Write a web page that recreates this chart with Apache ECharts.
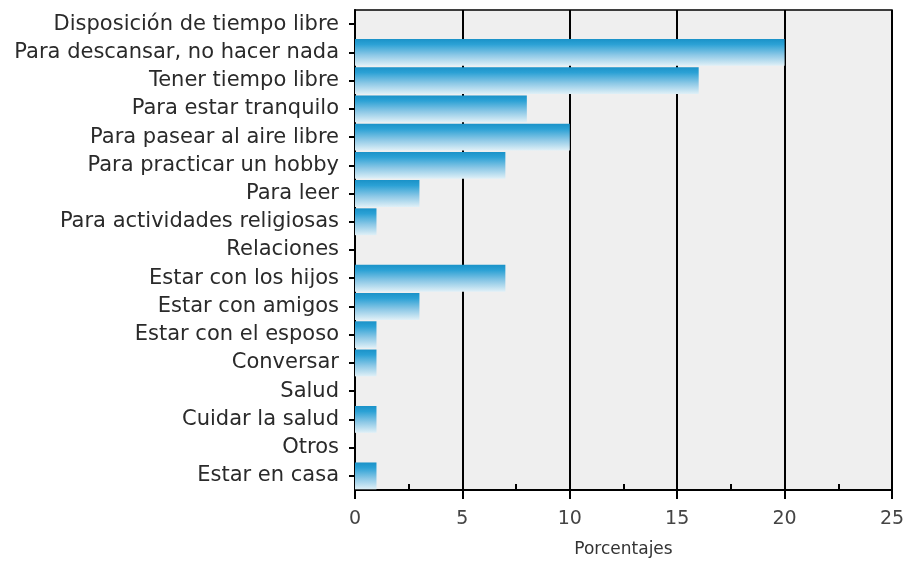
<!DOCTYPE html>
<html>
<head>
<meta charset="utf-8">
<script src="https://cdn.jsdelivr.net/npm/echarts@6/dist/echarts.min.js"></script>
<style>
html,body{margin:0;padding:0;background:#fff;}
#c{width:912px;height:563px;}
</style>
</head>
<body>
<div id="c"></div>
<script>
const categories = [
  'Disposición de tiempo libre',
  'Para descansar, no hacer nada',
  'Tener tiempo libre',
  'Para estar tranquilo',
  'Para pasear al aire libre',
  'Para practicar un hobby',
  'Para leer',
  'Para actividades religiosas',
  'Relaciones',
  'Estar con los hijos',
  'Estar con amigos',
  'Estar con el esposo',
  'Conversar',
  'Salud',
  'Cuidar la salud',
  'Otros',
  'Estar en casa'
];
const values = [null, 20, 16, 8, 10, 7, 3, 1, null, 7, 3, 1, 1, null, 1, null, 1];
const xTicks = [0, 5, 10, 15, 20, 25];

const FONT = 'DejaVu Sans';
const chart = echarts.init(document.getElementById('c'));
chart.setOption({
  animation: false,
  grid: {
    left: 355, right: 20, top: 10, bottom: 73,
    show: true, backgroundColor: '#efefef', borderColor: '#000', borderWidth: 1.5
  },
  xAxis: [{
    type: 'value', min: xTicks[0], max: xTicks[xTicks.length - 1], interval: 5,
    position: 'bottom',
    name: 'Porcentajes', nameLocation: 'middle', nameGap: 51,
    nameTextStyle: { fontFamily: FONT, fontSize: 17, color: '#333', verticalAlign: 'top' },
    axisLine: { show: true, lineStyle: { color: '#000', width: 2 } },
    axisTick: { show: true, length: 9, lineStyle: { color: '#000', width: 2 } },
    axisLabel: { fontFamily: FONT, fontSize: 19, color: '#444', margin: 20 },
    splitLine: { show: true, lineStyle: { color: '#000', width: 2 } }
  }, {
    type: 'value', min: xTicks[0], max: xTicks[xTicks.length - 1], interval: 5,
    position: 'bottom', offset: 0,
    axisLine: { show: false },
    axisTick: { show: false, inside: true },
    axisLabel: { show: false },
    splitLine: { show: false },
    minorTick: { show: true, splitNumber: 2, length: 6, lineStyle: { color: '#000', width: 2 } }
  }],
  yAxis: {
    type: 'category', data: categories, inverse: true,
    axisLine: { show: true, lineStyle: { color: '#000', width: 2 } },
    axisTick: { show: true, alignWithLabel: true, length: 6, lineStyle: { color: '#000', width: 2 } },
    axisLabel: { fontFamily: FONT, fontSize: 21, color: '#2a2a2a', margin: 16 },
    splitLine: { show: false }
  },
  series: [{
    type: 'bar', data: values, xAxisIndex: 0, barCategoryGap: '5%',
    itemStyle: {
      color: new echarts.graphic.LinearGradient(0, 0, 0, 1, [
        { offset: 0, color: '#1a92c8' },
        { offset: 0.2, color: '#2ba1d5' },
        { offset: 0.6, color: '#8cc8e6' },
        { offset: 1, color: '#e0f0f7' }
      ])
    }
  }]
});
</script>
</body>
</html>
